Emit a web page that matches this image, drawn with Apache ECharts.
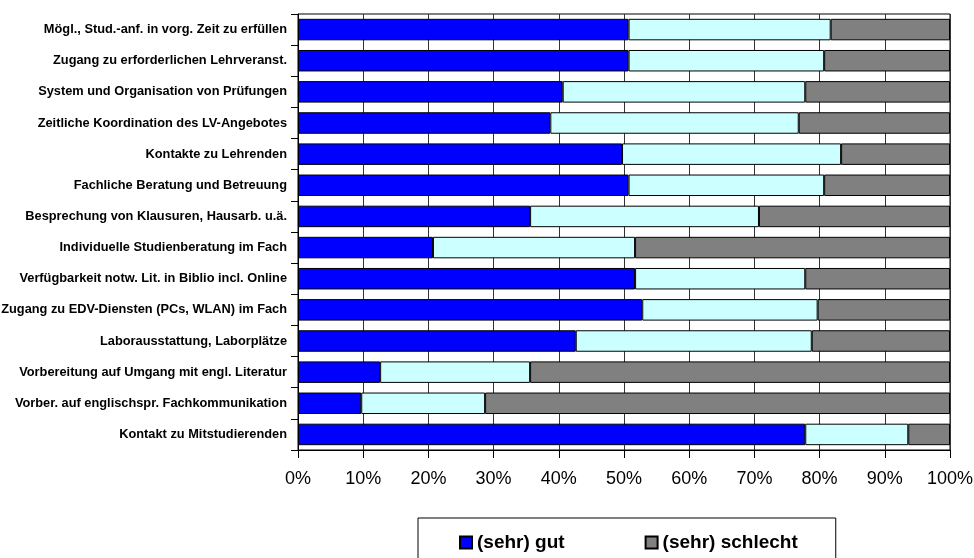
<!DOCTYPE html>
<html>
<head>
    <meta charset="utf-8"/>
    <style type="text/css">
        body, html {
            width: 100%;
            height: 100%;
            margin: 0;
            background: #fff;
        }
        #chart {
            width: 974px;
            height: 558px;
        }
    </style>
    <script src="https://cdn.jsdelivr.net/npm/echarts@6/dist/echarts.min.js"></script>
    <title>Bewertung</title>
</head>
<body>
<div id="chart"></div>
<script type="text/javascript">
    var categories = [
        'Mögl., Stud.-anf. in vorg. Zeit zu erfüllen',
        'Zugang zu erforderlichen Lehrveranst.',
        'System und Organisation von Prüfungen',
        'Zeitliche Koordination des LV-Angebotes',
        'Kontakte zu Lehrenden',
        'Fachliche Beratung und Betreuung',
        'Besprechung von Klausuren, Hausarb. u.ä.',
        'Individuelle Studienberatung im Fach',
        'Verfügbarkeit notw. Lit. in Biblio incl. Online',
        'Zugang zu EDV-Diensten (PCs, WLAN) im Fach',
        'Laborausstattung, Laborplätze',
        'Vorbereitung auf Umgang mit engl. Literatur',
        'Vorber. auf englischspr. Fachkommunikation',
        'Kontakt zu Mitstudierenden'
    ];
    var gut = [50.7, 50.7, 40.6, 38.7, 49.7, 50.7, 35.6, 20.7, 51.7, 52.8, 42.6, 12.6, 9.7, 77.8];
    var teils = [31.0, 30.0, 37.2, 38.1, 33.6, 30.0, 35.1, 31.0, 26.1, 26.9, 36.2, 23.0, 19.0, 15.8];
    var schlecht = [18.3, 19.3, 22.2, 23.2, 16.7, 19.3, 29.3, 48.3, 22.2, 20.3, 21.2, 64.4, 71.3, 6.4];
    var xTicks = [0, 10, 20, 30, 40, 50, 60, 70, 80, 90, 100];

    var font = '"Liberation Sans", Arial, sans-serif';

    var myChart = echarts.init(document.getElementById('chart'));

    function bar(name, data, color) {
        return {
            name: name,
            type: 'bar',
            stack: 'total',
            barCategoryGap: '31%',
            data: data,
            itemStyle: {color: color, borderColor: '#000', borderWidth: 1},
            emphasis: {disabled: true}
        };
    }

    var option = {
        animation: false,
        grid: {
            left: 298, right: 24, top: 14, bottom: 108,
            outerBoundsMode: 'none',
            containLabel: false,
            show: true, borderColor: '#000', borderWidth: 1
        },
        legend: {
            data: ['(sehr) gut', '(sehr) schlecht'],
            left: 418, top: 518,
            padding: [15, 38, 20, 41],
            itemGap: 80,
            itemWidth: 12, itemHeight: 12,
            icon: 'rect',
            borderColor: '#000', borderWidth: 1,
            textStyle: {fontFamily: font, fontWeight: 'bold', fontSize: 19, color: '#000'}
        },
        xAxis: {
            type: 'value',
            min: 0, max: 100, interval: 10,
            axisLine: {show: true, lineStyle: {color: '#000'}},
            axisTick: {show: true, length: 8, lineStyle: {color: '#000'}},
            splitLine: {show: true, lineStyle: {color: '#333', width: 1}},
            axisLabel: {
                margin: 20,
                fontFamily: font, fontSize: 18, color: '#000',
                formatter: function (v) {
                    return xTicks.indexOf(v) >= 0 ? v + '%' : '';
                }
            }
        },
        yAxis: {
            type: 'category',
            inverse: true,
            data: categories,
            axisLine: {show: true, lineStyle: {color: '#000'}},
            axisTick: {show: true, length: 7, lineStyle: {color: '#000'}},
            axisLabel: {
                margin: 11,
                fontFamily: font, fontWeight: 'bold', fontSize: 12.8, color: '#000'
            }
        },
        series: [
            bar('(sehr) gut', gut, '#0000ff'),
            bar('teils/teils', teils, '#ccffff'),
            bar('(sehr) schlecht', schlecht, '#808080')
        ]
    };
    myChart.setOption(option);
</script>
</body>
</html>
